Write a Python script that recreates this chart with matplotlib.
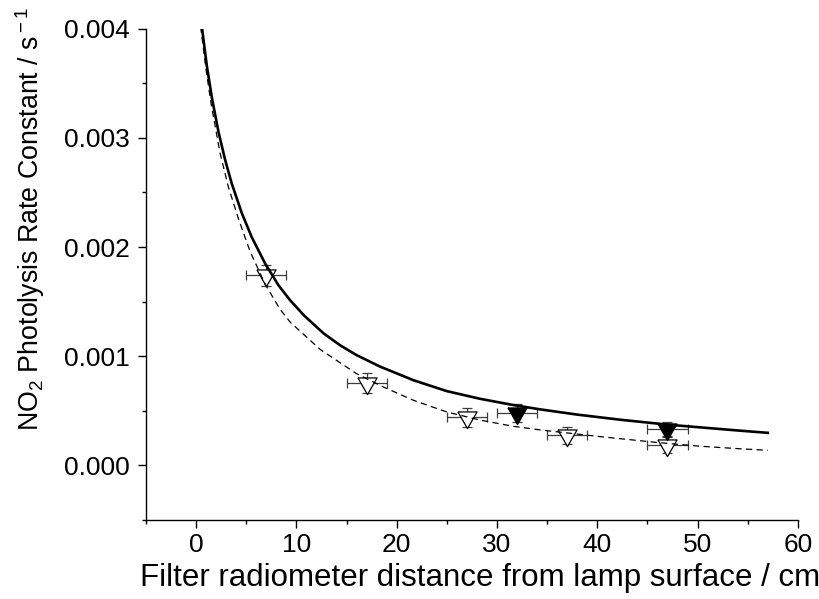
import numpy as np
import matplotlib
matplotlib.use("Agg")
import matplotlib.pyplot as plt
from matplotlib.ticker import MultipleLocator, FormatStrFormatter

plt.rcParams['font.family'] = ['Liberation Sans', 'DejaVu Sans']
plt.rcParams['mathtext.fontset'] = 'custom'
plt.rcParams['mathtext.rm'] = 'Liberation Sans'
plt.rcParams['mathtext.it'] = 'Liberation Sans:italic'

# measured points (open = one filter set, filled = the other)
open_x = [7, 17, 27, 37, 47]
open_y = [0.00174, 0.000755, 0.00044, 0.000275, 0.00019]
open_yerr = [0.0001, 0.00009, 0.00009, 0.00008, 0.00008]
filled_x = [32, 47]
filled_y = [0.00048, 0.00033]
filled_yerr = [0.00008, 0.00007]
x_err = 2

# fitted curves
solid_x = [0.57, 1.07, 1.57, 2.22, 2.89, 3.56, 4.56, 5.55, 6.88, 8.21, 9.4,
           10.8, 12.7, 14.36, 16.0, 18.34, 21.67, 25.0, 28.3, 31.6, 34.3,
           38.0, 42.3, 47, 54.2, 57]
solid_y = [0.00402, 0.00366, 0.00337, 0.00306, 0.00280, 0.00258, 0.00231,
           0.00209, 0.00185, 0.00165, 0.00151, 0.00137, 0.00121, 0.0011,
           0.00101, 0.000905, 0.00078, 0.00068, 0.00061, 0.000553, 0.000513,
           0.000465, 0.000418, 0.000373, 0.000318, 0.000298]
dash_x = [0.45, 1.0, 1.5, 2.39, 3.22, 4.22, 5.38, 6.88, 8.37, 9.4, 12.4, 16.0,
          18.67, 21.67, 25.0, 28.3, 31.6, 34.3, 40, 45.6, 50, 54.2, 57]
dash_y = [0.00402, 0.00362, 0.00331, 0.00286, 0.00255, 0.00226, 0.00196,
          0.00166, 0.00143, 0.00131, 0.00106, 0.00084, 0.000718, 0.000596,
          0.000489, 0.000415, 0.000358, 0.000325, 0.000266, 0.000213,
          0.000177, 0.000152, 0.000138]

# down triangle centred on its centroid
tri = [(-1, 0.581), (1, 0.581), (0, -1.163), (-1, 0.581)]

fig = plt.figure(figsize=(8.2, 5.99), dpi=100)
ax = fig.add_axes([0.178, 0.132, 0.795, 0.82])

ebc = '#3c3c3c'
ax.errorbar(open_x, open_y, xerr=x_err, yerr=open_yerr, fmt='none',
            ecolor=ebc, elinewidth=0.9, capsize=3.5, capthick=0.9, zorder=2)
ax.errorbar(filled_x, filled_y, xerr=x_err, yerr=filled_yerr, fmt='none',
            ecolor=ebc, elinewidth=0.9, capsize=3.5, capthick=0.9, zorder=2)
ax.plot(open_x, open_y, linestyle='none', marker=tri, markersize=16,
        markerfacecolor='white', markeredgecolor='black', markeredgewidth=0.9, zorder=3)
ax.plot(filled_x, filled_y, linestyle='none', marker=tri, markersize=16,
        markerfacecolor='black', markeredgecolor='black', markeredgewidth=0.9, zorder=3)

ax.plot(solid_x, solid_y, color='black', linewidth=1.9, zorder=4,
        solid_joinstyle='round')
ax.plot(dash_x, dash_y, color='black', linewidth=0.9, linestyle=(0, (5, 3.5)), zorder=4)

ax.set_xlim(-5, 60)
ax.set_ylim(-0.0005, 0.004)
ax.xaxis.set_major_locator(MultipleLocator(10))
ax.xaxis.set_minor_locator(MultipleLocator(5))
ax.yaxis.set_major_locator(MultipleLocator(0.001))
ax.yaxis.set_minor_locator(MultipleLocator(0.0005))
ax.yaxis.set_major_formatter(FormatStrFormatter('%.3f'))

ax.spines['top'].set_visible(False)
ax.spines['right'].set_visible(False)
for s in ['left', 'bottom']:
    ax.spines[s].set_linewidth(1.0)
ax.tick_params(which='major', direction='out', length=5.5, width=1.0, labelsize=19)
ax.tick_params(which='minor', direction='out', length=3, width=1.0)
ax.tick_params(axis='y', which='major', pad=6)
ax.tick_params(axis='x', which='major', pad=4)

fig.text(30 / 820, 1 - 219 / 599, r'NO$_{\rm 2}$ Photolysis Rate Constant / s$^{\rm -1}$',
         rotation=90, ha='center', va='center', fontsize=19.3)
fig.text(480 / 820, 1 - 578 / 599, 'Filter radiometer distance from lamp surface / cm',
         ha='center', va='center', fontsize=22.5)

fig.savefig('out.png', dpi=100)
